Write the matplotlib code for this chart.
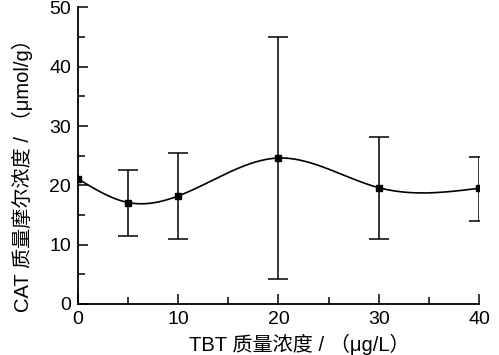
"""CAT molality vs TBT concentration, with error bars and a smooth spline."""

import matplotlib
matplotlib.use("Agg")
import matplotlib.pyplot as plt
import numpy as np
from matplotlib.ticker import MultipleLocator

plt.rcParams["font.family"] = ["Liberation Sans", "Noto Sans CJK SC", "DejaVu Sans"]

tbt_conc = [0, 5, 10, 20, 30, 40]
cat_mean = [21.1, 17.1, 18.2, 24.6, 19.6, 19.5]
err_low = [0.0, 5.6, 7.2, 20.4, 8.7, 5.5]
err_high = [0.0, 5.5, 7.2, 20.4, 8.5, 5.2]

x_label = "TBT 质量浓度 / （μg/L）"
y_label = "CAT 质量摩尔浓度 / （μmol/g）"


def natural_spline(x, y, n=300):
    x = np.asarray(x, float)
    y = np.asarray(y, float)
    h = np.diff(x)
    m = len(x)
    a = np.zeros((m, m))
    b = np.zeros(m)
    a[0, 0] = a[-1, -1] = 1.0
    for i in range(1, m - 1):
        a[i, i - 1] = h[i - 1]
        a[i, i] = 2 * (h[i - 1] + h[i])
        a[i, i + 1] = h[i]
        b[i] = 6 * ((y[i + 1] - y[i]) / h[i] - (y[i] - y[i - 1]) / h[i - 1])
    mm = np.linalg.solve(a, b)
    xs = np.linspace(x[0], x[-1], n)
    idx = np.clip(np.searchsorted(x, xs) - 1, 0, m - 2)
    x0, x1 = x[idx], x[idx + 1]
    hh = x1 - x0
    t0, t1 = x1 - xs, xs - x0
    ys = (mm[idx] * t0 ** 3 + mm[idx + 1] * t1 ** 3) / (6 * hh) \
        + (y[idx] / hh - mm[idx] * hh / 6) * t0 \
        + (y[idx + 1] / hh - mm[idx + 1] * hh / 6) * t1
    return xs, ys


fig = plt.figure(figsize=(4.99, 3.55), dpi=100)
ax = fig.add_axes([0.156, 0.144, 0.804, 0.835])

xs, ys = natural_spline(tbt_conc, cat_mean)
ax.plot(xs, ys, color="black", lw=1.2)
# no error bar drawn for the control point
ax.errorbar(tbt_conc[1:], cat_mean[1:], yerr=[err_low[1:], err_high[1:]], fmt="none",
            ecolor="black", elinewidth=1.1, capsize=7, capthick=1.1)
ax.plot(tbt_conc, cat_mean, "s", color="black", ms=5)

ax.set_xlim(0, 40)
ax.set_ylim(0, 50)
ax.xaxis.set_major_locator(MultipleLocator(10))
ax.xaxis.set_minor_locator(MultipleLocator(5))
ax.yaxis.set_major_locator(MultipleLocator(10))
ax.yaxis.set_minor_locator(MultipleLocator(5))
ax.tick_params(which="major", direction="in", length=7, width=1.1, labelsize=14, pad=5)
ax.tick_params(which="minor", direction="in", length=5, width=1.1)
for side in ("top", "right"):
    ax.spines[side].set_visible(False)
for side in ("left", "bottom"):
    ax.spines[side].set_linewidth(1.3)

ax.set_xlabel(x_label, fontsize=14.5)
ax.set_ylabel(y_label, fontsize=14.5)
ax.xaxis.set_label_coords(0.551, -0.1)
ax.yaxis.set_label_coords(-0.112, 0.45)

fig.savefig("out.png", dpi=100)
